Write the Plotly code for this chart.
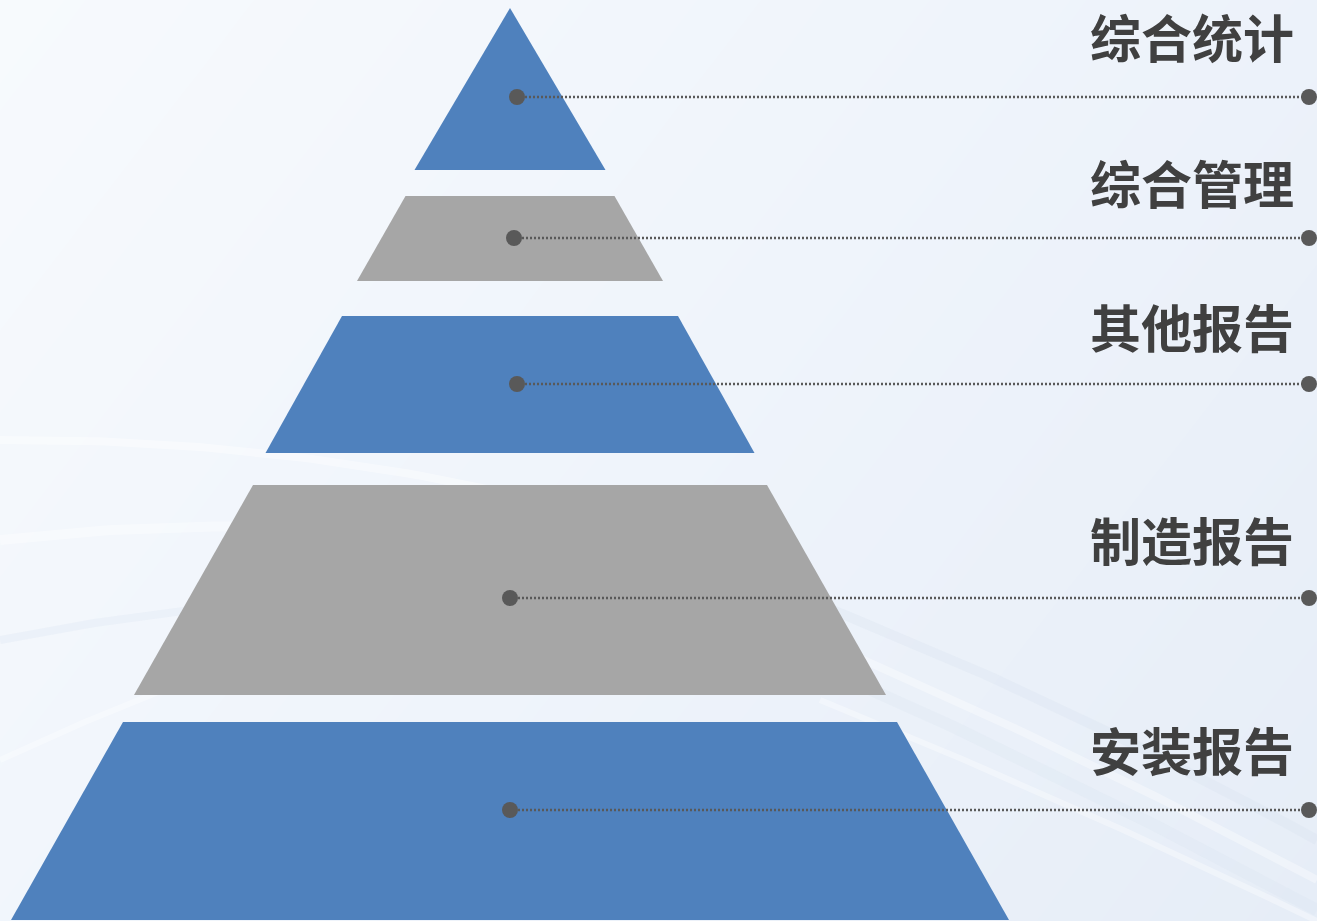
import plotly.graph_objects as go
import numpy as np

# ---- data ----
labels = ["综合统计", "综合管理", "其他报告", "制造报告", "安装报告"]
band_top = [8, 196, 316, 485, 722]          # y (axis units, top of each level)
band_bottom = [170, 281, 453, 695, 920]     # y (bottom of each level)
half_top = [0, 104.5, 168, 257, 387]        # half width at top
half_bottom = [95.5, 153, 244.5, 376, 499]  # half width at bottom
line_y = [97, 238, 384, 598, 810]
line_x0 = [517, 514, 517, 510, 510]
label_y = [36, 182, 326, 539, 749]
band_colors = ["#4f81bd", "#a6a6a6", "#4f81bd", "#a6a6a6", "#4f81bd"]

W, H = 1317, 921
CX = 510
XR = 1309

fig = go.Figure()

# background gradient
gx = np.linspace(0, W, 40)
gy = np.linspace(0, H, 30)
GX, GY = np.meshgrid(gx, gy)
Z = 0.65 * GX / W + 0.35 * GY / H
fig.add_trace(go.Heatmap(x=gx, y=gy, z=Z, showscale=False, hoverinfo="skip",
                         colorscale=[[0, "#f7fafd"], [0.5, "#eff4fb"], [1, "#e6edf7"]],
                         zsmooth="best"))

# faint background swooshes (decoration)
def strand(x0, y0, x1, y1, bend, col, w):
    t = np.linspace(0, 1, 60)
    xs = x0 + (x1 - x0) * t
    ys = y0 + (y1 - y0) * t + bend * t * (1 - t)
    fig.add_trace(go.Scatter(x=xs, y=ys, mode="lines", line=dict(color=col, width=w),
                             hoverinfo="skip", showlegend=False))

strand(0, 440, 560, 505, -70, "rgba(255,255,255,0.40)", 8)
strand(0, 540, 600, 560, -90, "rgba(255,255,255,0.35)", 10)
strand(0, 640, 600, 600, -80, "rgba(220,230,243,0.30)", 8)
strand(0, 760, 300, 640, -20, "rgba(255,255,255,0.35)", 6)
strand(700, 560, 1317, 840, -60, "rgba(215,226,240,0.30)", 10)
strand(720, 600, 1317, 880, -40, "rgba(255,255,255,0.35)", 8)
strand(760, 640, 1317, 910, -30, "rgba(215,226,240,0.25)", 12)
strand(820, 700, 1317, 921, -20, "rgba(255,255,255,0.35)", 6)

# pyramid levels
for i in range(len(labels)):
    xs = [CX - half_top[i], CX + half_top[i], CX + half_bottom[i], CX - half_bottom[i], CX - half_top[i]]
    ys = [band_top[i], band_top[i], band_bottom[i], band_bottom[i], band_top[i]]
    fig.add_trace(go.Scatter(x=xs, y=ys, mode="lines", fill="toself",
                             fillcolor=band_colors[i], line=dict(width=0, color=band_colors[i]),
                             hoverinfo="skip", showlegend=False))

# leader lines
for i in range(len(labels)):
    fig.add_trace(go.Scatter(x=[line_x0[i], XR], y=[line_y[i], line_y[i]], mode="lines",
                             line=dict(color="#595959", width=2.5, dash="2px,2px"),
                             hoverinfo="skip", showlegend=False))
    fig.add_trace(go.Scatter(x=[line_x0[i], XR], y=[line_y[i], line_y[i]], mode="markers",
                             marker=dict(color="#595959", size=16),
                             hoverinfo="skip", showlegend=False))
    fig.add_annotation(x=1296, y=label_y[i], text="<b>" + labels[i] + "</b>",
                       xanchor="right", yanchor="middle", showarrow=False,
                       font=dict(family="Noto Sans CJK SC", size=51, color="#404040"))

fig.update_layout(width=W, height=H, margin=dict(l=0, r=0, t=0, b=0),
                  paper_bgcolor="#f3f7fc", plot_bgcolor="#f3f7fc", showlegend=False)
fig.update_xaxes(range=[0, W], visible=False, fixedrange=True)
fig.update_yaxes(range=[H, 0], visible=False, fixedrange=True)

fig.write_html("out.html", config={"displayModeBar": False},
               post_script="document.body.style.margin='0';document.body.style.overflow='hidden';")
